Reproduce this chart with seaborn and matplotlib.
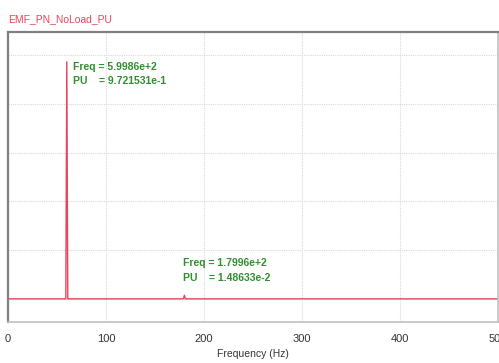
import pandas as pd
import seaborn as sns
import matplotlib.pyplot as plt

# spectrum values
freq = [0, 58, 59, 60, 61, 62, 178, 179, 180, 181, 182, 500]
pu = [0.0, 0.0, 0.0, 0.9721531, 0.0, 0.0, 0.0, 0.0, 0.0148633, 0.0, 0.0, 0.0]
xticks = [0, 100, 200, 300, 400, 500]

df = pd.DataFrame({'freq': freq, 'pu': pu})

sns.set_style('white')
plt.rcParams['font.family'] = ['Liberation Sans Narrow', 'Liberation Sans', 'DejaVu Sans']

fig = plt.figure(figsize=(4.99, 3.63), dpi=100)
ax = fig.add_axes([8 / 499, 1 - 322 / 363, 490 / 499, 290 / 363])

sns.lineplot(data=df, x='freq', y='pu', color='#e8445a', linewidth=1.0, ax=ax)

ax.set_xlim(0, 500)
ax.set_ylim(-0.095, 1.095)
ax.set_xticks(xticks)
ax.set_xticklabels([str(t) for t in xticks], fontsize=8, color='#333333')
ax.set_yticks([0, 0.2, 0.4, 0.6, 0.8, 1.0])
ax.set_yticklabels([])
ax.tick_params(length=0, pad=9)
ax.grid(True, color='#d8d8d8', linestyle=(0, (1, 1)), linewidth=0.8)
ax.set_xlabel('Frequency (Hz)', fontsize=7.5, color='#333333', labelpad=3)
ax.set_ylabel('')

for side in ['top', 'left']:
    ax.spines[side].set_color('#808080')
    ax.spines[side].set_linewidth(1.6)
for side in ['bottom', 'right']:
    ax.spines[side].set_color('#c0c0c0')
    ax.spines[side].set_linewidth(1.2)

green = '#2f8f2f'
ax.text(66, 0.94, 'Freq = 5.9986e+2', color=green, fontsize=7.5, fontweight='bold')
ax.text(66, 0.88, 'PU    = 9.721531e-1', color=green, fontsize=7.5, fontweight='bold')
ax.text(178.5, 0.135, 'Freq = 1.7996e+2', color=green, fontsize=7.5, fontweight='bold')
ax.text(178.5, 0.075, 'PU    = 1.48633e-2', color=green, fontsize=7.5, fontweight='bold')

fig.text(8 / 499, 1 - 22 / 363, 'EMF_PN_NoLoad_PU', color='#e8445a', fontsize=7.5)

fig.savefig('out.png', dpi=100)
